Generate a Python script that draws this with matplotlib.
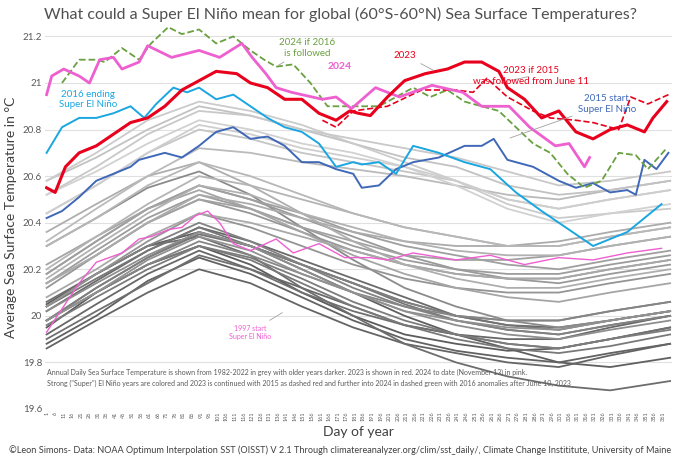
import numpy as np
import matplotlib
matplotlib.use('Agg')
import matplotlib.pyplot as plt

plt.rcParams['font.family'] = ['Lato', 'DejaVu Sans']

# grey years sampled at these days
grey_days = [1, 30, 60, 90, 120, 150, 180, 210, 240, 270, 300, 330, 365]
grey_years = [1982, 1983, 1984, 1985, 1986, 1987, 1988, 1989, 1990, 1991, 1992, 1993,
              1994, 1995, 1996, 1998, 1999, 2000, 2001, 2002, 2003, 2004, 2005, 2006,
              2007, 2008, 2009, 2010, 2011, 2012, 2013, 2014, 2017, 2018, 2019, 2020,
              2021, 2022]
grey_vals = [
    [19.95, 20.10, 20.22, 20.30, 20.22, 20.10, 20.00, 19.92, 19.88, 19.85, 19.86, 19.90, 19.95],
    [20.05, 20.18, 20.30, 20.36, 20.30, 20.20, 20.10, 20.00, 19.92, 19.86, 19.80, 19.78, 19.82],
    [19.88, 20.00, 20.15, 20.25, 20.18, 20.08, 19.98, 19.90, 19.85, 19.82, 19.80, 19.84, 19.88],
    [19.86, 19.98, 20.10, 20.20, 20.14, 20.04, 19.95, 19.88, 19.84, 19.80, 19.78, 19.83, 19.88],
    [19.92, 20.05, 20.18, 20.28, 20.20, 20.12, 20.04, 19.96, 19.92, 19.90, 19.90, 19.95, 20.00],
    [20.02, 20.15, 20.28, 20.38, 20.32, 20.24, 20.16, 20.08, 20.00, 19.96, 19.95, 19.98, 20.02],
    [20.06, 20.18, 20.30, 20.34, 20.26, 20.12, 20.00, 19.88, 19.80, 19.74, 19.70, 19.68, 19.72],
    [19.90, 20.02, 20.14, 20.26, 20.20, 20.10, 20.02, 19.96, 19.92, 19.88, 19.86, 19.90, 19.95],
    [19.98, 20.12, 20.25, 20.35, 20.30, 20.22, 20.14, 20.06, 20.00, 19.96, 19.94, 19.98, 20.02],
    [20.04, 20.16, 20.28, 20.38, 20.30, 20.22, 20.14, 20.05, 19.98, 19.94, 19.92, 19.96, 20.00],
    [19.98, 20.10, 20.22, 20.30, 20.24, 20.14, 20.04, 19.96, 19.90, 19.86, 19.84, 19.87, 19.92],
    [19.96, 20.08, 20.20, 20.30, 20.25, 20.16, 20.06, 19.98, 19.92, 19.88, 19.86, 19.90, 19.94],
    [19.98, 20.12, 20.25, 20.36, 20.30, 20.22, 20.14, 20.06, 20.00, 19.98, 19.98, 20.02, 20.06],
    [20.04, 20.18, 20.30, 20.40, 20.32, 20.22, 20.12, 20.04, 19.98, 19.94, 19.92, 19.96, 20.00],
    [19.98, 20.10, 20.22, 20.32, 20.26, 20.18, 20.10, 20.04, 20.00, 19.98, 19.98, 20.02, 20.06],
    [20.30, 20.42, 20.55, 20.62, 20.52, 20.38, 20.24, 20.12, 20.04, 19.98, 19.95, 19.98, 20.02],
    [20.02, 20.14, 20.26, 20.36, 20.30, 20.20, 20.10, 20.02, 19.96, 19.92, 19.90, 19.94, 19.98],
    [19.98, 20.10, 20.24, 20.34, 20.28, 20.18, 20.10, 20.02, 19.98, 19.95, 19.94, 19.98, 20.02],
    [20.04, 20.18, 20.32, 20.44, 20.38, 20.30, 20.22, 20.16, 20.12, 20.10, 20.10, 20.14, 20.18],
    [20.12, 20.26, 20.40, 20.50, 20.44, 20.36, 20.28, 20.22, 20.18, 20.16, 20.16, 20.20, 20.24],
    [20.18, 20.32, 20.46, 20.56, 20.50, 20.42, 20.34, 20.26, 20.20, 20.16, 20.14, 20.18, 20.22],
    [20.14, 20.28, 20.42, 20.52, 20.46, 20.38, 20.30, 20.24, 20.20, 20.18, 20.18, 20.22, 20.26],
    [20.18, 20.32, 20.46, 20.56, 20.50, 20.44, 20.36, 20.30, 20.26, 20.22, 20.20, 20.24, 20.28],
    [20.14, 20.26, 20.40, 20.50, 20.46, 20.38, 20.32, 20.26, 20.24, 20.24, 20.26, 20.30, 20.34],
    [20.22, 20.34, 20.46, 20.54, 20.46, 20.36, 20.26, 20.18, 20.12, 20.08, 20.06, 20.10, 20.14],
    [20.08, 20.20, 20.34, 20.44, 20.40, 20.34, 20.28, 20.22, 20.18, 20.16, 20.16, 20.20, 20.24],
    [20.14, 20.26, 20.40, 20.52, 20.48, 20.42, 20.36, 20.32, 20.30, 20.30, 20.32, 20.36, 20.40],
    [20.36, 20.48, 20.60, 20.66, 20.56, 20.44, 20.32, 20.22, 20.16, 20.12, 20.12, 20.16, 20.20],
    [20.16, 20.30, 20.44, 20.56, 20.52, 20.44, 20.38, 20.32, 20.28, 20.26, 20.26, 20.30, 20.34],
    [20.20, 20.34, 20.48, 20.60, 20.56, 20.50, 20.44, 20.38, 20.34, 20.30, 20.30, 20.34, 20.38],
    [20.30, 20.42, 20.56, 20.66, 20.60, 20.52, 20.44, 20.38, 20.34, 20.30, 20.30, 20.34, 20.38],
    [20.32, 20.46, 20.60, 20.72, 20.70, 20.66, 20.63, 20.60, 20.56, 20.52, 20.50, 20.54, 20.58],
    [20.58, 20.68, 20.80, 20.90, 20.86, 20.80, 20.74, 20.68, 20.64, 20.56, 20.52, 20.54, 20.58],
    [20.44, 20.56, 20.70, 20.80, 20.76, 20.70, 20.66, 20.62, 20.58, 20.50, 20.46, 20.50, 20.54],
    [20.52, 20.64, 20.78, 20.88, 20.86, 20.80, 20.76, 20.72, 20.68, 20.62, 20.56, 20.58, 20.62],
    [20.58, 20.70, 20.84, 20.92, 20.88, 20.82, 20.74, 20.66, 20.58, 20.48, 20.42, 20.44, 20.46],
    [20.44, 20.56, 20.70, 20.82, 20.78, 20.72, 20.68, 20.64, 20.58, 20.50, 20.46, 20.50, 20.54],
    [20.52, 20.62, 20.74, 20.84, 20.80, 20.74, 20.70, 20.64, 20.56, 20.46, 20.40, 20.44, 20.48],
]

# coloured years (day, value)
d1997 = [1, 10, 20, 30, 45, 55, 62, 72, 80, 88, 95, 102, 110, 120, 135, 145, 160, 175, 190, 200, 215, 240, 260, 280, 300, 320, 340, 360]
v1997 = [19.93, 20.03, 20.14, 20.23, 20.27, 20.33, 20.34, 20.37, 20.38, 20.43, 20.45, 20.40, 20.31, 20.28, 20.33, 20.27, 20.31, 20.25, 20.25, 20.24, 20.27, 20.24, 20.26, 20.22, 20.25, 20.24, 20.27, 20.29]

d2015 = [1, 10, 20, 30, 40, 50, 55, 70, 80, 90, 100, 110, 120, 130, 140, 150, 160, 170, 180, 185, 195, 205, 215, 230, 245, 255, 262, 270, 285, 300, 310, 320, 330, 340, 345, 350, 357, 364]
v2015 = [20.42, 20.45, 20.51, 20.58, 20.61, 20.64, 20.67, 20.70, 20.68, 20.73, 20.79, 20.81, 20.76, 20.77, 20.73, 20.66, 20.66, 20.63, 20.61, 20.55, 20.56, 20.63, 20.66, 20.68, 20.73, 20.73, 20.76, 20.67, 20.64, 20.58, 20.55, 20.57, 20.53, 20.54, 20.52, 20.67, 20.63, 20.70]

d2016 = [1, 10, 20, 30, 40, 50, 58, 65, 75, 83, 90, 100, 110, 120, 130, 140, 150, 160, 170, 180, 185, 195, 205, 215, 230, 245, 260, 275, 290, 300, 320, 340, 360]
v2016 = [20.70, 20.81, 20.85, 20.85, 20.87, 20.90, 20.85, 20.91, 20.98, 20.96, 20.98, 20.93, 20.95, 20.90, 20.85, 20.81, 20.79, 20.74, 20.64, 20.66, 20.65, 20.66, 20.61, 20.73, 20.70, 20.66, 20.63, 20.53, 20.45, 20.40, 20.30, 20.36, 20.48]

d2023 = [1, 6, 12, 20, 30, 40, 50, 60, 70, 80, 90, 100, 112, 120, 130, 140, 150, 160, 170, 178, 183, 190, 200, 210, 222, 235, 245, 255, 265, 270, 280, 290, 300, 310, 320, 330, 340, 350, 355, 363]
v2023 = [20.55, 20.53, 20.64, 20.70, 20.73, 20.78, 20.83, 20.85, 20.90, 20.97, 21.01, 21.05, 21.04, 21.00, 20.98, 20.93, 20.93, 20.87, 20.84, 20.88, 20.87, 20.86, 20.94, 21.01, 21.04, 21.06, 21.09, 21.09, 21.05, 20.98, 20.93, 20.85, 20.88, 20.79, 20.76, 20.80, 20.82, 20.79, 20.85, 20.92]

d2023_2015 = [162, 170, 180, 200, 220, 240, 250, 258, 270, 285, 295, 310, 320, 335, 342, 352, 364]
v2023_2015 = [20.84, 20.81, 20.88, 20.90, 20.97, 20.97, 20.96, 21.02, 20.94, 20.88, 20.85, 20.84, 20.83, 20.80, 20.94, 20.91, 20.95]

d2024 = [1, 4, 11, 20, 26, 32, 40, 45, 55, 60, 74, 90, 102, 115, 121, 129, 135, 144, 162, 170, 179, 193, 207, 226, 244, 255, 271, 283, 298, 306, 315, 318]
v2024 = [20.95, 21.03, 21.06, 21.03, 21.00, 21.10, 21.11, 21.06, 21.09, 21.16, 21.11, 21.14, 21.11, 21.17, 21.11, 21.04, 20.98, 20.96, 20.93, 20.94, 20.89, 20.98, 20.94, 20.99, 20.96, 20.90, 20.90, 20.81, 20.73, 20.74, 20.64, 20.68]

d2024_2016 = [10, 20, 30, 35, 45, 55, 62, 72, 80, 90, 100, 110, 120, 128, 135, 145, 155, 165, 175, 185, 195, 205, 215, 225, 235, 245, 255, 265, 275, 285, 295, 305, 315, 325, 335, 345, 352, 363]
v2024_2016 = [21.00, 21.10, 21.10, 21.09, 21.15, 21.10, 21.17, 21.24, 21.21, 21.23, 21.17, 21.20, 21.14, 21.10, 21.07, 21.08, 21.00, 20.90, 20.90, 20.90, 20.90, 20.94, 20.98, 20.94, 20.97, 20.92, 20.90, 20.88, 20.81, 20.74, 20.70, 20.61, 20.55, 20.58, 20.70, 20.69, 20.63, 20.72]

fig = plt.figure(figsize=(6.8, 4.59), dpi=100)
ax = fig.add_axes([0.066, 0.109, 0.922, 0.837])

# grey years, older darker
for i, yr in enumerate(grey_years):
    t = (yr - 1982) / 40
    g = 0.36 + 0.46 * t
    ax.plot(grey_days, grey_vals[i], color=(g, g, g), lw=1.3, zorder=2)

ax.plot(d1997, v1997, color='#ee5fd0', lw=1.0, zorder=3)
ax.plot(d2015, v2015, color='#4068b8', lw=1.4, zorder=3)
ax.plot(d2016, v2016, color='#1aa6e0', lw=1.4, zorder=3)
ax.plot(d2024_2016, v2024_2016, color='#6aa040', lw=1.3, ls='--', zorder=4)
ax.plot(d2023_2015, v2023_2015, color='#e8001c', lw=1.2, ls='--', zorder=4)
ax.plot(d2024, v2024, color='#ee5fd0', lw=2.0, zorder=5)
ax.plot(d2023, v2023, color='#e8001c', lw=2.2, zorder=6)

ax.set_xlim(0, 366)
ax.set_ylim(19.6, 21.25)
ax.set_yticks([19.6, 19.8, 20, 20.2, 20.4, 20.6, 20.8, 21, 21.2])
ax.set_yticklabels(['19.6', '19.8', '20', '20.2', '20.4', '20.6', '20.8', '21', '21.2'],
                   fontsize=7, color='#595959')
xt = list(range(1, 362, 5))
ax.set_xticks(xt)
ax.set_xticklabels([str(v) for v in xt], rotation=90, fontsize=4, color='#595959')
ax.tick_params(length=0, pad=2)
for s in ax.spines.values():
    s.set_visible(False)
ax.grid(axis='y', color='#e0e0e0', lw=0.8, zorder=0)
ax.set_axisbelow(True)

ax.set_xlabel('Day of year', fontsize=10, color='#404040', labelpad=3)
ax.set_ylabel('Average Sea Surface Temperature in °C', fontsize=10, color='#404040')
fig.suptitle('What could a Super El Niño mean for global (60°S-60°N) Sea Surface Temperatures?',
             fontsize=11.5, color='#505050', y=0.985)

# labels with leader lines
def note(text, xy, xytext, color, size=7, weight='normal'):
    ax.annotate(text, xy=xy, xytext=xytext, color=color, fontsize=size, weight=weight,
                ha='center', va='center', zorder=8,
                arrowprops=dict(arrowstyle='-', color='#a0a0a0', lw=0.6))

note('2024 if 2016\nis followed', (135, 21.07), (153, 21.15), '#6aa040')
note('2016 ending\nSuper El Niño', (40, 20.87), (25, 20.93), '#1aa6e0')
ax.text(172, 21.07, '2024', color='#ee5fd0', fontsize=7.5, weight='bold', ha='center', va='center')
note('2023', (228, 21.05), (210, 21.12), '#e8001c')
note('2023 if 2015\nwas followed from June 11', (265, 21.0), (284, 21.03), '#e8001c')
note('2015 start\nSuper El Niño', (270, 20.76), (328, 20.91), '#4068b8')
note('1997 start\nSuper El Niño', (140, 20.02), (120, 19.93), '#ee5fd0', size=5)

ax.text(0.003, 0.105, 'Annual Daily Sea Surface Temperature is shown from 1982-2022 in grey with older years darker. '
        '2023 is shown in red. 2024 to date (November 13) in pink.\n'
        'Strong ("Super") El Niño years are colored and 2023 is continued with 2015 as dashed red and further '
        'into 2024 in dashed green with 2016 anomalies after June 10, 2023',
        transform=ax.transAxes, fontsize=5, color='#595959', va='top', linespacing=1.6)

fig.text(0.5, 0.012, '©Leon Simons- Data: NOAA Optimum Interpolation SST (OISST) V 2.1 Through '
         'climatereanalyzer.org/clim/sst_daily/, Climate Change Instititute, University of Maine',
         ha='center', fontsize=6.6, color='#404040')

fig.savefig('out.png', dpi=100)
